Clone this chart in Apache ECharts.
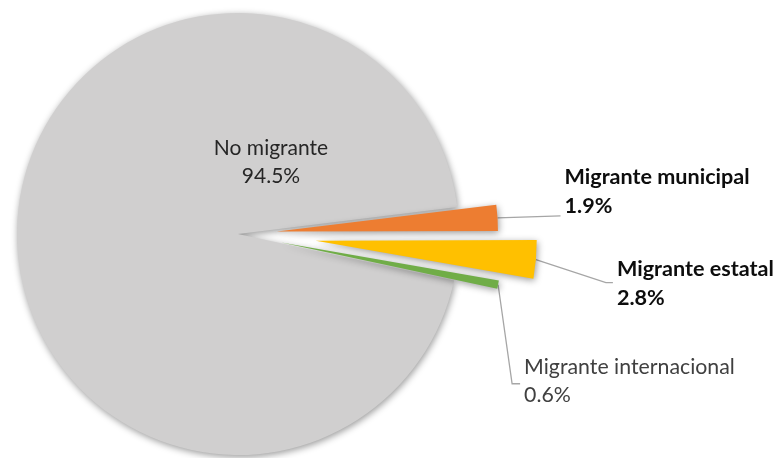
<!DOCTYPE html>
<html><head><meta charset="utf-8">
<script src="https://cdn.jsdelivr.net/npm/echarts@6/dist/echarts.min.js"></script>
<style>html,body{margin:0;padding:0;background:#fff}#c{width:780px;height:458px}</style>
</head><body><div id="c"></div>
<script>
// ---- data ----
const categories = ['Migrante municipal', 'Migrante estatal', 'Migrante internacional', 'No migrante'];
const values = [1.9, 2.8, 0.6, 94.5];

// ---- styles / layout ----
const palette = ['#ed7d31', '#ffc000', '#70ad47', '#d0cfcf'];
const explode = [39, 78, 44, 0];
const CENTER = [238, 234];
const RADIUS = 221;
const START = 7;
const FONT = 'Lato, "Open Sans", sans-serif';

const total = values.reduce((a, b) => a + b, 0);
function midAngle(i) {
  let before = 0;
  for (let k = 0; k < i; k++) before += values[k];
  return (START - 360 * (before + values[i] / 2) / total) * Math.PI / 180;
}

const labelStyles = [
  { fontWeight: 'bold', color: '#0d0d0d', fontSize: 21.6, lineHeight: 29 },
  { fontWeight: 'bold', color: '#0d0d0d', fontSize: 21.6, lineHeight: 29 },
  { fontWeight: 'normal', color: '#404040', fontSize: 21.3, lineHeight: 28 },
  { fontWeight: 'normal', color: '#262626', fontSize: 21, lineHeight: 28 }
];

// label placement relative to the start of each leader line
const leader = [
  (a) => ({ x: a[0] + 67, y: a[1] + 3, align: 'left', verticalAlign: 'bottom',
            labelLinePoints: [a, [a[0] + 32, a[1] - 1], [a[0] + 63, a[1] - 2]] }),
  (a) => ({ x: a[0] + 81, y: a[1] + 24, align: 'left', verticalAlign: 'middle',
            labelLinePoints: [a, [a[0] + 70, a[1] + 23], [a[0] + 77, a[1] + 23]] }),
  (a) => ({ x: a[0] + 26, y: a[1] + 96, align: 'left', verticalAlign: 'middle',
            labelLinePoints: [a, [a[0] + 14, a[1] + 99], [a[0] + 22, a[1] + 99]] })
];

const shadow = { shadowBlur: 7, shadowColor: 'rgba(0,0,0,0.4)', shadowOffsetX: 1, shadowOffsetY: 2 };

function sliceSeries(i) {
  const m = midAngle(i);
  const d = explode[i];
  const isMain = i === 3;
  return {
    type: 'pie',
    silent: true,
    animation: false,
    radius: RADIUS,
    startAngle: START,
    clockwise: true,
    center: [CENTER[0] + d * Math.cos(m), CENTER[1] - d * Math.sin(m)],
    avoidLabelOverlap: false,
    data: values.map((v, j) => ({
      name: categories[j],
      value: v,
      itemStyle: j === i
        ? Object.assign({ color: palette[j], borderWidth: 0 }, shadow)
        : { color: 'rgba(0,0,0,0)', borderWidth: 0, shadowColor: 'rgba(0,0,0,0)' },
      label: {
        show: j === i,
        position: isMain ? 'center' : 'outside',
        formatter: '{b}\n{c}%',
        fontFamily: FONT,
        fontSize: labelStyles[j].fontSize,
        fontWeight: labelStyles[j].fontWeight,
        color: labelStyles[j].color,
        lineHeight: labelStyles[j].lineHeight,
        align: isMain ? 'center' : 'left'
      },
      labelLine: {
        show: j === i && !isMain,
        lineStyle: { color: '#a6a6a6', width: 1.3 }
      }
    })),
    labelLayout: isMain
      ? { dx: 33, dy: -72 }
      : function (p) {
          if (!p.labelLinePoints || p.dataIndex !== i) return {};
          return leader[i](p.labelLinePoints[0]);
        }
  };
}

const chart = echarts.init(document.getElementById('c'), null, { renderer: 'canvas' });
chart.setOption({
  backgroundColor: '#ffffff',
  animation: false,
  series: [sliceSeries(3), sliceSeries(0), sliceSeries(1), sliceSeries(2)]
});
</script>
</body></html>
